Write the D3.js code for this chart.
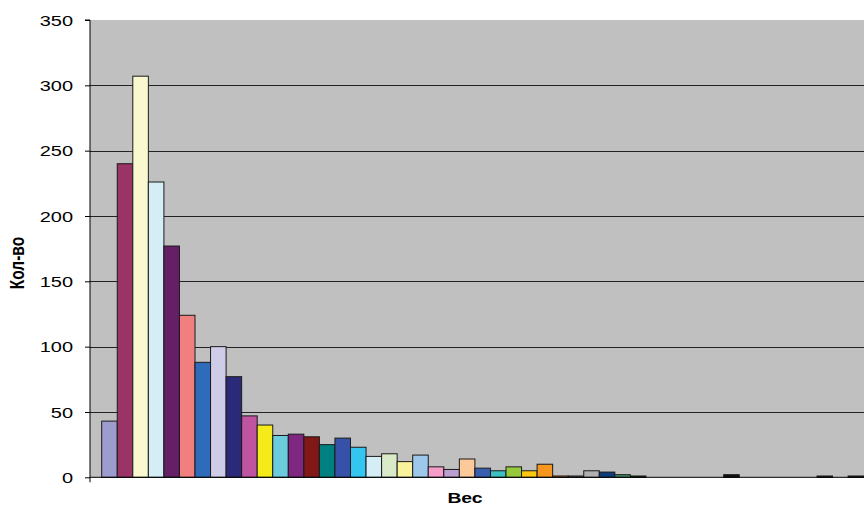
<!DOCTYPE html>
<html><head><meta charset="utf-8">
<script src="https://cdn.jsdelivr.net/npm/d3@7"></script>
<style>body{margin:0;background:#fff}svg{display:block}</style>
</head><body>
<svg id="c" width="864" height="508"></svg>
<script>
const seriesIdx = d3.range(49);
const values = [43,240,307,226,177,124,88,100,77,47,40,32,33,31,25,30,23,16,18,12,17,8,6,14,7,5,8,5,10,1,1,5,4,2,1,0,0,0,0,0,2,0,0,0,0,0,1,0,1];
const colors = ["#9C9CCF","#9A3366","#FAF8D0","#D5EEF5","#661F66","#F08080","#2E6BB8","#CFCCE8","#2A2A78","#BF55A0",
 "#F5EA1A","#6ACCDD","#7E2680","#801818","#008080","#3652A8","#33C6F0","#D5EEF5","#D8EAC8","#FAF29A",
 "#9DC8EC","#F59CC8","#B9A0D0","#FBC99A","#3A5EAE","#3BBFC0","#96C83C","#FFC810","#F7961E","#FF6600",
 "#666699","#B0B0B0","#0E3C78","#3E8E6A","#003300","#333300","#993300","#993366","#333399","#333333",
 "#111111","#9999FF","#993366","#FFFFCC","#CCFFFF","#660066","#111111","#0066CC","#111111"];
const yTicks = [0,50,100,150,200,250,300,350];
const yTitle = "Кол-во";
const xTitle = "Вес";

const svg = d3.select("#c");
const plotL = 90, plotT = 20, plotB = 477.3, plotR = 875;
const y = d3.scaleLinear().domain([0,350]).range([plotB, plotT]);
const x = d3.scaleBand().domain(seriesIdx).range([101.7, 101.7 + 49*15.55]).padding(0);
const sx = 1.29;

svg.append("rect").attr("x",plotL).attr("y",plotT).attr("width",plotR-plotL).attr("height",plotB-plotT).attr("fill","#C0C0C0");

svg.append("g").selectAll("line").data(yTicks.filter(t=>t>0 && t<350)).join("line")
  .attr("x1",plotL).attr("x2",plotR).attr("y1",d=>Math.round(y(d))+0.5).attr("y2",d=>Math.round(y(d))+0.5)
  .attr("stroke","#222").attr("stroke-width",1);

svg.append("g").selectAll("rect").data(seriesIdx.filter(i=>values[i]>0)).join("rect")
  .attr("x",i=>x(i)).attr("width",x.bandwidth())
  .attr("y",i=>y(values[i])).attr("height",i=>y(0)-y(values[i]))
  .attr("fill",i=>colors[i]).attr("stroke","#1a1a1a").attr("stroke-width",1);

// axes
const yAxis = d3.axisLeft(y).tickValues(yTicks).tickSize(5).tickFormat(d3.format("d"));
const gy = svg.append("g").attr("transform",`translate(${plotL},0)`).call(yAxis);
gy.select(".domain").attr("stroke","#000").attr("d",`M-5,${y(350)}H0V${plotB+5}`);
gy.selectAll(".tick line").attr("stroke","#000");
gy.selectAll(".tick text").attr("x",0).attr("dy",null).attr("dominant-baseline","central")
  .attr("text-anchor","end")
  .attr("transform",`translate(-17,0) scale(${sx},1)`)
  .attr("font-family","Liberation Sans, Arial, sans-serif").attr("font-size",15.5).attr("fill","#000");

const xAxis = d3.axisBottom(x).tickValues([]).tickSizeOuter(0);
const gx = svg.append("g").attr("transform",`translate(0,${plotB})`).call(xAxis);
gx.select(".domain").attr("stroke","#000").attr("d",`M${plotL},0H${plotR}`);

svg.append("text").attr("transform",`translate(24,263) rotate(-90) scale(1,${sx})`)
  .attr("text-anchor","middle").attr("font-family","Liberation Sans, Arial, sans-serif")
  .attr("font-weight","bold").attr("font-size",15.5).text(yTitle);

svg.append("text").attr("transform",`translate(465,503) scale(${sx},1)`)
  .attr("text-anchor","middle").attr("font-family","Liberation Sans, Arial, sans-serif")
  .attr("font-weight","bold").attr("font-size",15).text(xTitle);
</script>
</body></html>
